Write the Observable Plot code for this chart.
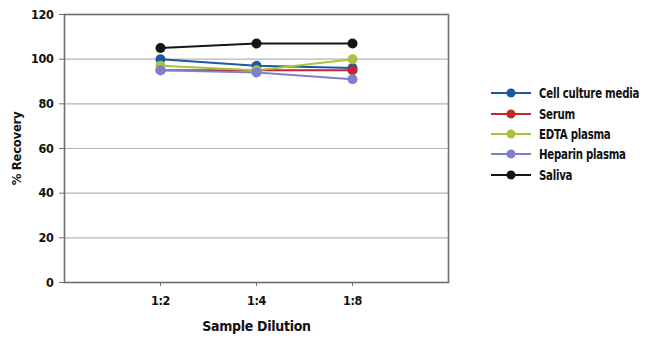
<!DOCTYPE html>
<html>
<head>
<meta charset="utf-8">
<script src="https://cdn.jsdelivr.net/npm/d3@7"></script>
<script src="https://cdn.jsdelivr.net/npm/@observablehq/plot@0.6"></script>
<style>
  html, body { margin: 0; padding: 0; background: #fff; }
  #wrap { position: relative; width: 650px; height: 350px; font-family: "DejaVu Sans Condensed", sans-serif; font-weight: bold; }
  #legend { position: absolute; left: 491px; top: 83px; white-space: nowrap; }
  .item { display: flex; align-items: center; height: 20.4px; font-size: 13.5px; letter-spacing: -0.3px; color: #111; white-space: nowrap; }
  .item svg { margin-right: 8px; flex: none; }
  .item span { display: inline-block; transform: scaleX(0.84); transform-origin: left center; }
</style>
</head>
<body>
<div id="wrap"><div id="legend"></div></div>
<script>
const dilutions = ["1:2", "1:4", "1:8"];
const seriesNames = ["Cell culture media", "Serum", "EDTA plasma", "Heparin plasma", "Saliva"];
const seriesColors = ["#1f56a3", "#c0282e", "#a9c43c", "#7f7fcc", "#151515"];
const cellCultureMedia = [100, 97, 96];
const serum = [95, 95, 95];
const edtaPlasma = [97, 95, 100];
const heparinPlasma = [95, 94, 91];
const saliva = [105, 107, 107];
const yTicks = [0, 20, 40, 60, 80, 100, 120];

const seriesValues = [cellCultureMedia, serum, edtaPlasma, heparinPlasma, saliva];
const data = [];
seriesNames.forEach((name, i) => {
  dilutions.forEach((d, j) => data.push({series: name, dilution: d, value: seriesValues[i][j]}));
});

const font = '"DejaVu Sans Condensed", sans-serif';

const chart = Plot.plot({
  width: 650,
  height: 350,
  marginLeft: 64,
  marginRight: 202,
  marginTop: 14,
  marginBottom: 68,
  style: {fontFamily: font, fontWeight: "bold", fontSize: "12px", color: "#111", background: "#fff", letterSpacing: "-0.3px"},
  x: {type: "point", domain: dilutions, padding: 1},
  y: {domain: [0, 120]},
  color: {domain: seriesNames, range: seriesColors},
  marks: [
    Plot.gridY(yTicks, {stroke: "#b4b4b4", strokeOpacity: 1, strokeWidth: 1.2}),
    Plot.frame({stroke: "#6e6e6e", strokeWidth: 1.6}),
    Plot.axisY(yTicks, {tickSize: 5, tickPadding: 6, stroke: "#6e6e6e", label: null, fontSize: 12.5}),
    Plot.axisX({tickSize: 4, tickPadding: 10, stroke: "#6e6e6e", label: null, fontSize: 12.5}),
    Plot.text(["Sample Dilution"], {frameAnchor: "bottom", dy: 48, fontSize: 14, fontWeight: "bold", fill: "#111", textAnchor: "middle"}),
    Plot.text(["% Recovery"], {frameAnchor: "left", dx: -48, rotate: -90, fontSize: 13, fontWeight: "bold", fill: "#111", textAnchor: "middle"}),
    Plot.line(data, {x: "dilution", y: "value", z: "series", stroke: "series", strokeWidth: 2}),
    Plot.dot(data, {x: "dilution", y: "value", fill: "series", r: 5})
  ]
});
document.getElementById("wrap").prepend(chart);

const legend = document.getElementById("legend");
seriesNames.forEach((name, i) => {
  const item = document.createElement("div");
  item.className = "item";
  item.innerHTML = `<svg width="40" height="12"><line x1="0" y1="6" x2="40" y2="6" stroke="${seriesColors[i]}" stroke-width="2"/><circle cx="20" cy="6" r="4.5" fill="${seriesColors[i]}"/></svg><span>${name}</span>`;
  legend.appendChild(item);
});
</script>
</body>
</html>
